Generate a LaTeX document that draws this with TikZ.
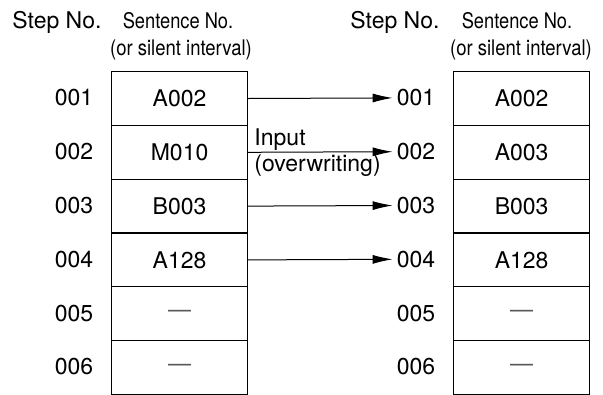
\documentclass[tikz,border=0pt]{standalone}
\usepackage{fontspec}
\setmainfont{TeX Gyre Heros}
\usetikzlibrary{arrows.meta}
\begin{document}
\begin{tikzpicture}[x=1pt,y=-1pt, font=\fontsize{23}{25}\selectfont,
  cell/.style={draw, line width=1.2pt, minimum width=136pt, minimum height=53.8pt, inner sep=0pt, anchor=north west},
  stepno/.style={inner sep=0pt},
  hdr/.style={inner sep=0pt},
  subhdr/.style={inner sep=0pt, font=\fontsize{21.5}{23}\selectfont},
  arr/.style={-{Latex[length=20pt,width=9pt]}, line width=1pt, shorten >=4pt}]
\useasboundingbox (0,0) rectangle (603,394);
% headers
\node[hdr] (lhs) at (57,22) {Step No.};
\node[subhdr] (lhc) at (178,21) {\scalebox{0.85}[1]{Sentence No.}};
\node[subhdr] (lhc2) at (181,50) {\scalebox{0.86}[1]{(or silent interval)}};
\node[hdr] (rhs) at (395,22) {Step No.};
\node[subhdr] (rhc) at (517,21) {\scalebox{0.85}[1]{Sentence No.}};
\node[subhdr] (rhc2) at (521,50) {\scalebox{0.86}[1]{(or silent interval)}};
% left table
\foreach \i/\t in {1/A002,2/M010,3/B003,4/A128,5/{\textcolor{black!65}{—}},6/{\textcolor{black!65}{—}}}{
  \node[cell] (lc\i) at (111,{71+(\i-1)*53.8}) {\t};
  \node[stepno] (ls\i) at (74,{71+(\i-0.5)*53.8}) {00\i};
}
% right table
\foreach \i/\t in {1/A002,2/A003,3/B003,4/A128,5/{\textcolor{black!65}{—}},6/{\textcolor{black!65}{—}}}{
  \node[cell] (rc\i) at (453,{71+(\i-1)*53.8}) {\t};
  \node[stepno] (rs\i) at (416,{71+(\i-0.5)*53.8}) {00\i};
}
% arrows
\foreach \i in {1,2,3,4}{
  \draw[arr] (lc\i.east) -- (rs\i.west);
}
\node[anchor=south west, inner sep=2pt] (inl) at ([xshift=4pt]lc2.east) {Input};
\node[anchor=north west, inner sep=2pt] (owl) at ([xshift=4pt]lc2.east) {(overwriting)};
\end{tikzpicture}
\end{document}
